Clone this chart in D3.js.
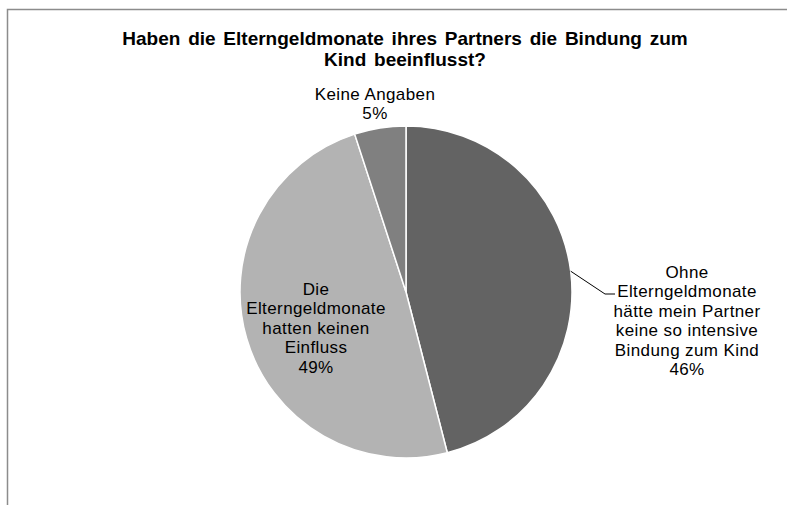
<!DOCTYPE html>
<html><head><meta charset="utf-8">
<script src="https://cdn.jsdelivr.net/npm/d3@7"></script>
<style>body{margin:0;background:#fff;}svg{display:block;font-family:"Liberation Sans",Arial,sans-serif;}</style>
</head><body>
<svg id="c" width="787" height="505"></svg>
<script>
const categories = ["Ohne Elterngeldmonate hätte mein Partner keine so intensive Bindung zum Kind", "Die Elterngeldmonate hatten keinen Einfluss", "Keine Angaben"];
const values = [46, 49, 5];
const labelLines = [
  ["Ohne","Elterngeldmonate","hätte mein Partner","keine so intensive","Bindung zum Kind","46%"],
  ["Die","Elterngeldmonate","hatten keinen","Einfluss","49%"],
  ["Keine Angaben","5%"]
];
const colors = ["#636363", "#b3b3b3", "#808080"];
const titleLines = ["Haben die Elterngeldmonate ihres Partners die Bindung zum", "Kind beeinflusst?"];

const svg = d3.select("#c");
svg.append("path").attr("d","M7.5,505V9.5H787").attr("fill","none").attr("stroke","#8c8c8c").attr("stroke-width",1.5);

svg.append("g").selectAll("text").data(titleLines).join("text")
  .attr("x",405).attr("y",(d,i)=>45+i*21).attr("text-anchor","middle")
  .attr("font-size",19).attr("font-weight","bold").attr("word-spacing",2.5).attr("fill","#000").text(d=>d);

const cx=406, cy=292, r=166;
const pie = d3.pie().sort(null).value(d=>d)(values);
const arc = d3.arc().innerRadius(0).outerRadius(r);
const g = svg.append("g").attr("transform",`translate(${cx},${cy})`);
g.selectAll("path").data(pie).join("path").attr("d",arc)
  .attr("fill",(d,i)=>colors[i]).attr("stroke","#fff").attr("stroke-width",1.5);

// label anchor positions (center x, first baseline y) relative to pie center
const labelPos = [[281,-14],[-90,3],[-31,-192]];
const lh = 19.4;
labelLines.forEach((lines,i)=>{
  const t = g.append("text").attr("text-anchor","middle").attr("font-size",17)
    .attr("letter-spacing",0.4).attr("fill","#000");
  lines.forEach((s,j)=>t.append("tspan").attr("x",labelPos[i][0]).attr("y",labelPos[i][1]+j*lh).text(s));
});
// leader line for first slice
const ang = (pie[0].startAngle+pie[0].endAngle)/2;
const p1 = [r*Math.sin(ang), -r*Math.cos(ang)];
g.append("path").attr("d",`M${p1[0]},${p1[1]}L199,2H209`)
  .attr("fill","none").attr("stroke","#000").attr("stroke-width",1);
</script>
</body></html>
